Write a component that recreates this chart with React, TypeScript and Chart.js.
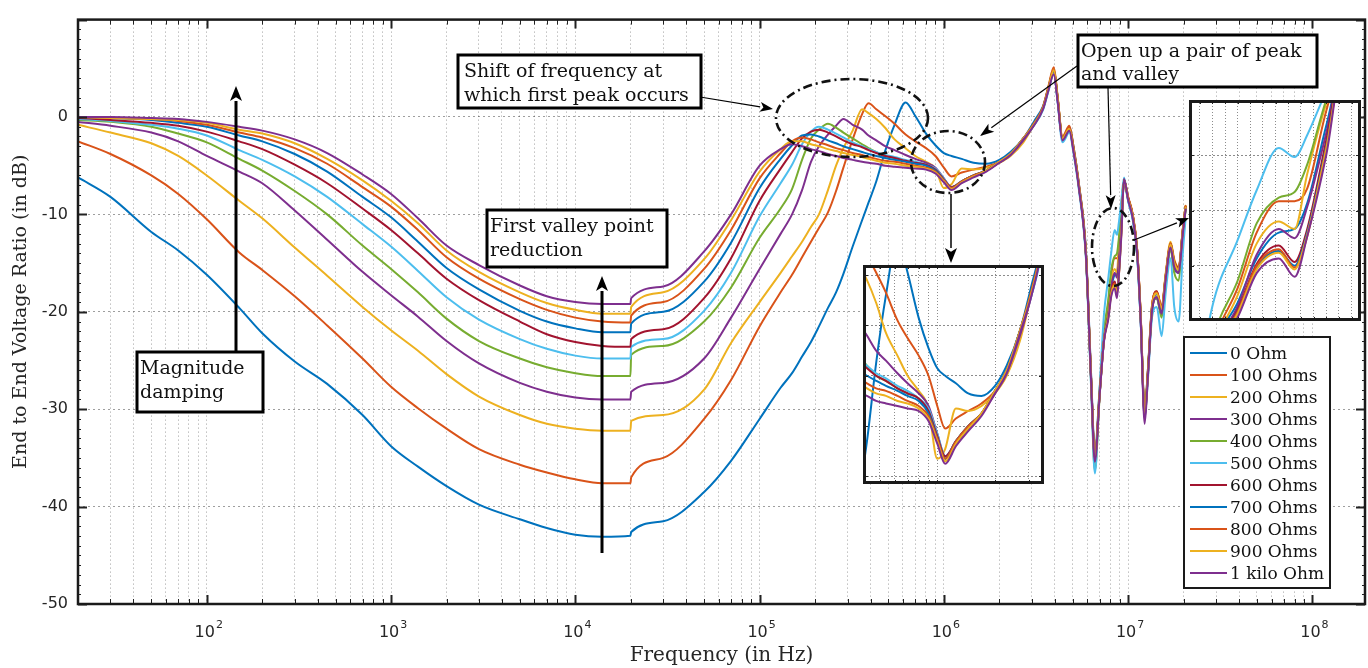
import React, { useEffect, useRef } from "react";
import { Chart, registerables } from "chart.js";

Chart.register(...registerables);

// ---------- DATA ----------
const FREQ_HZ = [
  20, 30, 50, 70, 100, 150, 200, 300, 450, 700,
  1000, 1400, 2000, 3000, 5000, 7000, 10000, 14000, 19900,
  20100, 30000, 50000, 70000, 100000, 130000, 150000, 170000, 190000, 210000,
  235000, 260000, 285000, 320000, 360000, 390000, 430000, 480000, 540000, 620000,
  700000, 800000, 900000, 1000000, 1100000, 1250000, 1450000, 1700000, 2000000, 2300000,
  2700000, 3100000, 3450000, 3700000, 3950000, 4150000, 4400000, 4800000, 5050000, 5400000,
  5900000, 6300000, 6600000, 7000000, 7400000, 7800000, 8100000, 8450000, 8700000, 8900000,
  9200000, 9500000, 10000000, 10600000, 11200000, 11700000, 12300000, 12800000, 13500000, 14300000,
  15200000, 16000000, 17000000, 17800000, 18800000, 19800000, 20500000,
];

const R_0 = [
  -6.2, -8.2, -11.8, -13.7, -16.2, -19.6, -22.2, -25.1, -27.4, -30.6,
  -33.8, -35.9, -37.9, -39.8, -41.3, -42.2, -42.9, -43.1, -43.0,
  -42.6, -41.5, -38.5, -35.3, -31.0, -27.8, -26.3, -24.6, -23.1, -21.5,
  -19.6, -18.0, -16.1, -13.3, -10.6, -8.8, -6.6, -3.5, -0.8, 1.5,
  0.1, -1.7, -2.9, -3.7, -4.0, -4.3, -4.7, -4.8, -4.4, -3.6,
  -2.2, -0.4, 1.1, 3.0, 4.6, 1.6, -2.4, -1.0, -3.0, -6.8,
  -13.6, -26.5, -34.5, -28.0, -22.5, -20.0, -17.6, -16.2, -16.0, -14.6,
  -10.4, -6.8, -8.6, -10.5, -14.2, -21.0, -30.0, -26.0, -19.5, -18.6,
  -20.3, -16.8, -13.5, -15.5, -16.0, -12.0, -9.5,
];
const R_100 = [
  -2.5, -3.8, -6.0, -7.9, -10.5, -13.9, -15.7, -18.4, -21.4, -24.8,
  -27.7, -29.9, -32.0, -34.1, -35.7, -36.5, -37.2, -37.6, -37.6,
  -37.0, -35.0, -31.0, -27.0, -21.5, -18.0, -16.2, -14.4, -12.8, -11.4,
  -9.8, -7.6, -5.2, -2.3, 0.3, 1.4, 0.8, 0.1, -0.7, -1.8,
  -2.5, -3.2, -4.0, -5.2, -6.1, -5.7, -5.4, -5.1, -4.6, -3.8,
  -2.3, -0.7, 1.0, 3.2, 5.1, 2.0, -2.0, -0.9, -3.0, -6.8,
  -13.8, -26.8, -35.0, -28.2, -22.3, -19.2, -16.2, -14.5, -14.5, -13.8,
  -9.6, -6.5, -8.2, -10.0, -13.6, -20.2, -30.2, -26.0, -19.2, -18.0,
  -19.8, -16.2, -13.0, -14.8, -15.6, -11.6, -9.2,
];
const R_200 = [
  -0.8, -1.6, -2.7, -4.0, -6.0, -8.6, -10.4, -13.4, -16.3, -19.5,
  -21.9, -24.0, -26.4, -28.7, -30.6, -31.5, -32.0, -32.2, -32.2,
  -31.2, -30.6, -28.0, -23.2, -19.0, -16.0, -14.3, -12.8, -11.3, -10.0,
  -7.5, -5.0, -3.2, -1.4, 0.8, 0.4, -0.2, -1.1, -2.3, -3.2,
  -4.0, -4.6, -5.3, -7.3, -6.9, -5.3, -5.4, -5.2, -4.7, -4.0,
  -2.6, -0.7, 0.9, 3.0, 4.9, 1.9, -2.1, -1.1, -3.2, -7.0,
  -14.0, -27.0, -35.2, -28.4, -22.6, -19.6, -16.8, -15.6, -16.0, -13.0,
  -9.2, -6.6, -8.3, -10.1, -13.7, -20.3, -30.3, -26.2, -19.3, -17.9,
  -19.6, -16.0, -12.8, -14.6, -15.4, -11.5, -9.1,
];
const R_300 = [
  -0.5, -0.9, -1.6, -2.5, -4.0, -5.6, -6.8, -9.6, -12.6, -15.9,
  -18.3, -20.5, -23.0, -25.3, -27.3, -28.2, -28.8, -29.0, -29.0,
  -28.2, -27.3, -24.8, -20.6, -15.6, -12.0, -10.0, -7.5, -4.6, -3.0,
  -1.8, -0.9, -0.2, -0.8, -1.3, -1.9, -2.4, -3.0, -3.4, -3.9,
  -4.3, -4.7, -5.2, -6.3, -7.2, -6.7, -6.1, -5.5, -4.7, -3.9,
  -2.4, -0.8, 0.8, 2.8, 4.6, 1.6, -2.3, -1.3, -3.4, -7.1,
  -14.1, -27.2, -35.3, -28.5, -22.8, -20.2, -17.4, -16.0, -16.5, -14.8,
  -10.8, -6.5, -8.4, -10.3, -14.0, -20.8, -31.0, -26.6, -19.8, -18.5,
  -20.2, -16.6, -13.3, -15.3, -16.0, -11.9, -9.4,
];
const R_400 = [
  -0.3, -0.5, -1.0, -1.7, -2.6, -4.3, -5.5, -7.6, -10.0, -13.2,
  -15.6, -18.0, -20.7, -23.0, -24.8, -25.7, -26.3, -26.6, -26.6,
  -24.4, -23.5, -21.0, -17.5, -12.4, -9.4, -7.4, -4.4, -2.2, -1.3,
  -0.7, -1.1, -1.6, -2.2, -2.8, -3.2, -3.6, -4.0, -4.2, -4.5,
  -4.7, -4.9, -5.4, -6.4, -7.3, -6.6, -6.0, -5.5, -4.6, -3.8,
  -2.2, -0.7, 0.9, 3.0, 4.8, 1.8, -2.2, -1.2, -3.3, -7.1,
  -14.2, -27.5, -36.3, -28.8, -22.0, -18.8, -15.7, -14.3, -14.0, -12.5,
  -9.0, -6.5, -8.3, -10.2, -13.9, -20.6, -30.5, -26.4, -19.8, -18.6,
  -20.6, -17.0, -13.6, -16.0, -16.8, -12.2, -9.6,
];
const R_500 = [
  -0.2, -0.4, -0.8, -1.2, -1.9, -3.4, -4.4, -6.1, -8.2, -11.0,
  -13.3, -15.8, -18.5, -20.8, -22.8, -23.8, -24.5, -24.8, -24.8,
  -23.6, -22.8, -19.9, -16.0, -10.2, -6.8, -4.9, -2.8, -1.5, -1.0,
  -1.3, -1.7, -2.1, -2.6, -3.0, -3.3, -3.6, -3.9, -4.1, -4.4,
  -4.6, -4.9, -5.3, -6.3, -7.2, -6.6, -6.0, -5.5, -4.6, -3.8,
  -2.2, -0.8, 0.7, 2.7, 4.5, 1.4, -2.6, -1.6, -3.7, -7.4,
  -14.5, -27.8, -36.6, -28.0, -20.2, -16.6, -13.9, -11.6, -12.1, -10.9,
  -8.5, -6.2, -8.6, -10.6, -14.3, -21.0, -30.8, -27.0, -20.5, -19.5,
  -22.5, -18.0, -14.5, -19.5, -21.0, -14.0, -10.5,
];
const R_600 = [
  -0.1, -0.3, -0.6, -0.9, -1.5, -2.5, -3.3, -4.9, -6.8, -9.4,
  -11.6, -14.0, -16.6, -18.8, -21.0, -22.3, -23.1, -23.5, -23.6,
  -22.8, -21.8, -18.6, -14.5, -8.6, -5.3, -3.6, -2.2, -1.5, -1.3,
  -1.6, -2.0, -2.4, -2.8, -3.1, -3.4, -3.7, -4.0, -4.2, -4.5,
  -4.7, -4.9, -5.4, -6.4, -7.2, -6.6, -6.0, -5.5, -4.6, -3.8,
  -2.2, -0.7, 0.9, 3.0, 4.8, 1.8, -2.2, -1.1, -3.2, -7.0,
  -14.0, -27.0, -35.0, -28.6, -22.8, -20.4, -17.9, -16.9, -17.8, -16.0,
  -11.2, -6.4, -8.3, -10.1, -13.7, -20.4, -30.8, -26.3, -19.4, -17.9,
  -19.5, -16.2, -13.0, -14.8, -15.5, -11.6, -9.2,
];
const R_700 = [
  0.0, -0.1, -0.3, -0.6, -1.0, -1.9, -2.5, -3.8, -5.6, -8.2,
  -10.3, -12.8, -15.5, -17.7, -19.9, -21.0, -21.7, -22.1, -22.1,
  -21.2, -20.0, -16.9, -12.9, -7.3, -4.3, -2.9, -1.9, -1.8, -2.0,
  -2.4, -2.7, -3.0, -3.3, -3.6, -3.8, -4.0, -4.2, -4.4, -4.6,
  -4.8, -5.0, -5.5, -6.5, -7.3, -6.6, -6.0, -5.5, -4.6, -3.8,
  -2.2, -0.7, 0.9, 3.0, 4.8, 1.8, -2.2, -1.2, -3.3, -7.0,
  -14.0, -27.0, -35.0, -28.6, -22.9, -20.5, -18.1, -17.2, -18.0, -16.2,
  -11.5, -6.5, -8.4, -10.2, -13.8, -20.5, -30.6, -26.4, -19.6, -18.2,
  -19.8, -16.4, -13.1, -15.0, -15.7, -11.7, -9.3,
];
const R_800 = [
  0.0, -0.1, -0.2, -0.4, -0.8, -1.6, -2.1, -3.2, -4.8, -7.2,
  -9.2, -11.6, -14.4, -16.6, -18.7, -19.8, -20.6, -21.0, -21.1,
  -20.4, -19.0, -15.6, -11.6, -6.3, -3.7, -2.5, -2.1, -2.3, -2.6,
  -2.9, -3.2, -3.4, -3.7, -3.9, -4.1, -4.3, -4.5, -4.6, -4.8,
  -5.0, -5.2, -5.6, -6.5, -7.3, -6.6, -6.0, -5.5, -4.6, -3.8,
  -2.2, -0.6, 1.0, 3.1, 4.9, 1.9, -2.1, -1.1, -3.2, -6.9,
  -13.9, -26.9, -35.1, -28.5, -22.9, -20.5, -18.0, -17.1, -18.1, -16.4,
  -11.6, -6.5, -8.3, -10.1, -13.7, -20.4, -30.5, -26.3, -19.4, -18.0,
  -19.6, -16.3, -13.0, -14.9, -15.6, -11.6, -9.2,
];
const R_900 = [
  0.0, -0.1, -0.2, -0.3, -0.6, -1.3, -1.7, -2.7, -4.3, -6.5,
  -8.6, -10.9, -13.7, -15.9, -18.0, -19.1, -19.8, -20.2, -20.2,
  -19.5, -18.0, -14.6, -10.6, -5.6, -3.3, -2.5, -2.5, -2.8, -3.0,
  -3.3, -3.5, -3.7, -3.9, -4.1, -4.3, -4.5, -4.7, -4.8, -5.0,
  -5.1, -5.3, -5.7, -6.6, -7.4, -6.7, -6.1, -5.5, -4.6, -3.8,
  -2.2, -0.7, 0.9, 3.0, 4.8, 1.8, -2.2, -1.2, -3.3, -7.0,
  -14.0, -27.0, -35.0, -28.6, -22.9, -20.6, -18.2, -17.3, -18.2, -16.3,
  -11.7, -6.5, -8.4, -10.2, -13.8, -20.5, -30.6, -26.4, -19.5, -18.1,
  -19.7, -16.3, -13.1, -15.0, -15.7, -11.7, -9.3,
];
const R_1K = [
  0.0, 0.0, -0.1, -0.2, -0.5, -1.0, -1.4, -2.3, -3.7, -5.9,
  -7.9, -10.4, -13.2, -15.2, -17.3, -18.4, -19.0, -19.2, -19.2,
  -18.6, -17.4, -13.8, -10.0, -5.0, -3.3, -2.8, -3.0, -3.3, -3.5,
  -3.8, -4.0, -4.2, -4.4, -4.6, -4.7, -4.8, -5.0, -5.1, -5.2,
  -5.3, -5.4, -5.8, -6.7, -7.5, -6.8, -6.2, -5.6, -4.7, -3.9,
  -2.3, -0.8, 0.8, 2.8, 4.4, 1.5, -2.4, -1.4, -3.5, -7.2,
  -14.2, -27.2, -35.4, -28.7, -23.0, -20.8, -18.4, -17.6, -18.6, -16.4,
  -12.0, -6.4, -8.5, -10.4, -14.0, -20.8, -31.5, -26.7, -19.8, -18.5,
  -20.2, -16.6, -13.4, -15.4, -16.0, -12.0, -9.5,
];

const SERIES = [R_0, R_100, R_200, R_300, R_400, R_500, R_600, R_700, R_800, R_900, R_1K];
const SERIES_LABELS = [
  "0 Ohm", "100 Ohms", "200 Ohms", "300 Ohms", "400 Ohms", "500 Ohms",
  "600 Ohms", "700 Ohms", "800 Ohms", "900 Ohms", "1 kilo Ohm",
];
const SERIES_COLORS = [
  "#0072BD", "#D95319", "#EDB120", "#7E2F8E", "#77AC30", "#4DBEEE",
  "#A2142F", "#0072BD", "#D95319", "#EDB120", "#7E2F8E",
];

const X_MIN = 20;
const X_MAX = 1.93e8;
const Y_MIN = -50;
const Y_MAX = 10;
const Y_STEP = 10;
const X_DECADE_EXPONENTS = [2, 3, 4, 5, 6, 7, 8];
const X_TITLE = "Frequency (in Hz)";
const Y_TITLE = "End to End Voltage Ratio (in dB)";

const INSET1_X = [4.1e5, 3.6e6];
const INSET1_Y = [-8.3, 0.4];
const INSET1_Y_GRID = [-8, -6, -4, -2, 0];
const INSET2_X = [7.03e6, 9.75e6];
const INSET2_Y = [-21, -9];
const INSET2_Y_GRID = [-18, -15, -12];
const INSET2_X_GRID = [7.2e6, 7.4e6, 7.6e6, 7.8e6, 8.0e6, 8.2e6, 8.4e6, 8.6e6, 8.8e6, 9.0e6, 9.2e6, 9.4e6, 9.6e6];

// ---------- HELPERS ----------
function logGrid(min: number, max: number): number[] {
  const out: number[] = [];
  for (let e = 0; e <= 9; e++) {
    for (let m = 1; m <= 9; m++) {
      const v = m * Math.pow(10, e);
      if (v >= min * 0.9999 && v <= max * 1.0001) out.push(v);
    }
  }
  return out;
}
const X_GRID = logGrid(X_MIN, X_MAX);
const INSET1_X_GRID = logGrid(INSET1_X[0], INSET1_X[1]);

function makeDatasets(width: number) {
  return SERIES.map((s, i) => ({
    label: SERIES_LABELS[i],
    data: FREQ_HZ.map((f, j) => ({ x: f, y: s[j] })),
    borderColor: SERIES_COLORS[i],
    backgroundColor: SERIES_COLORS[i],
    borderWidth: width,
    pointRadius: 0,
    fill: false,
    cubicInterpolationMode: "monotone" as const,
    borderJoinStyle: "round" as const,
    borderCapStyle: "round" as const,
    order: SERIES.length - i,
  }));
}

function arrow(ctx: CanvasRenderingContext2D, x1: number, y1: number, x2: number, y2: number, lw: number, head: number, hw: number) {
  const ang = Math.atan2(y2 - y1, x2 - x1);
  const bx = x2 - head * Math.cos(ang);
  const by = y2 - head * Math.sin(ang);
  ctx.lineWidth = lw;
  ctx.beginPath();
  ctx.moveTo(x1, y1);
  ctx.lineTo(bx, by);
  ctx.stroke();
  ctx.beginPath();
  ctx.moveTo(x2, y2);
  ctx.lineTo(bx + hw * Math.sin(ang), by - hw * Math.cos(ang));
  ctx.lineTo(bx + head * 0.25 * Math.cos(ang), by + head * 0.25 * Math.sin(ang));
  ctx.lineTo(bx - hw * Math.sin(ang), by + hw * Math.cos(ang));
  ctx.closePath();
  ctx.fill();
}

function textBox(ctx: CanvasRenderingContext2D, x: number, y: number, w: number, h: number, lines: string[], tx: number, baselines: number[], size: number) {
  ctx.fillStyle = "#ffffff";
  ctx.fillRect(x, y, w, h);
  ctx.lineWidth = 3;
  ctx.strokeStyle = "#000";
  ctx.strokeRect(x, y, w, h);
  ctx.fillStyle = "#111";
  ctx.font = `${size}px "DejaVu Serif", serif`;
  ctx.textAlign = "left";
  ctx.textBaseline = "alphabetic";
  lines.forEach((t, i) => ctx.fillText(t, tx, baselines[i]));
}

function dashEllipse(ctx: CanvasRenderingContext2D, cx: number, cy: number, rx: number, ry: number) {
  ctx.save();
  ctx.setLineDash([9, 4, 2, 4]);
  ctx.lineWidth = 2.6;
  ctx.strokeStyle = "#111";
  ctx.beginPath();
  ctx.ellipse(cx, cy, rx, ry, 0, 0, Math.PI * 2);
  ctx.stroke();
  ctx.restore();
}

const mainDecor = {
  id: "mainDecor",
  afterDraw(chart: any) {
    const ctx: CanvasRenderingContext2D = chart.ctx;
    const { left, right, top, bottom } = chart.chartArea;
    const xs = chart.scales.x;
    const ys = chart.scales.y;
    ctx.save();
    ctx.strokeStyle = "#222";
    ctx.lineWidth = 1;
    ctx.setLineDash([]);
    for (const v of X_GRID) {
      const px = Math.round(xs.getPixelForValue(v)) + 0.5;
      const major = X_DECADE_EXPONENTS.some((e) => Math.abs(v - Math.pow(10, e)) < 1e-6 * v);
      const len = major ? 9 : 5;
      ctx.lineWidth = major ? 2 : 1;
      ctx.beginPath();
      ctx.moveTo(px, bottom);
      ctx.lineTo(px, bottom - len);
      ctx.moveTo(px, top);
      ctx.lineTo(px, top + len);
      ctx.stroke();
    }
    for (let v = Y_MIN; v <= Y_MAX; v += 1) {
      const py = Math.round(ys.getPixelForValue(v)) + 0.5;
      const major = v % Y_STEP === 0;
      const len = major ? 9 : 3;
      ctx.lineWidth = major ? 2 : 1;
      ctx.beginPath();
      ctx.moveTo(left, py);
      ctx.lineTo(left + len, py);
      ctx.moveTo(right, py);
      ctx.lineTo(right - len, py);
      ctx.stroke();
    }
    ctx.lineWidth = 2.5;
    ctx.strokeStyle = "#1a1a1a";
    ctx.strokeRect(left, top, right - left, bottom - top);

    // x tick labels 10^n
    ctx.fillStyle = "#262626";
    ctx.textBaseline = "alphabetic";
    for (const e of X_DECADE_EXPONENTS) {
      const px = xs.getPixelForValue(Math.pow(10, e));
      ctx.font = '16px "DejaVu Sans", sans-serif';
      const w10 = ctx.measureText("10").width;
      ctx.textAlign = "left";
      const x0 = px - w10 / 2 - 2;
      ctx.fillText("10", x0, 637);
      ctx.font = '11px "DejaVu Sans", sans-serif';
      ctx.fillText(String(e), x0 + w10 + 1, 628);
    }

    // legend
    const lx = 1184, ly = 337, lw = 146, lh = 251;
    ctx.fillStyle = "#fff";
    ctx.fillRect(lx, ly, lw, lh);
    ctx.lineWidth = 2;
    ctx.strokeStyle = "#1a1a1a";
    ctx.strokeRect(lx, ly, lw, lh);
    ctx.font = '17px "DejaVu Serif", serif';
    ctx.textAlign = "left";
    chart.data.datasets.forEach((ds: any, i: number) => {
      const cy = 353 + i * 22;
      ctx.strokeStyle = ds.borderColor;
      ctx.lineWidth = 2;
      ctx.beginPath();
      ctx.moveTo(1190, cy);
      ctx.lineTo(1227, cy);
      ctx.stroke();
      ctx.fillStyle = "#111";
      ctx.fillText(ds.label, 1230, cy + 6);
    });

    // annotations
    ctx.strokeStyle = "#000";
    ctx.fillStyle = "#000";
    arrow(ctx, 236, 352, 236, 86, 3, 15, 6);
    arrow(ctx, 602, 553, 602, 276, 3, 15, 6);
    arrow(ctx, 700, 97, 773, 109, 1.2, 13, 5);
    arrow(ctx, 951, 194, 951, 263, 1.5, 15, 6);
    arrow(ctx, 1077, 66, 980, 136, 1.2, 14, 5);
    arrow(ctx, 1108, 88, 1111, 209, 1.2, 14, 5);
    arrow(ctx, 1134, 240, 1189, 218, 1.2, 13, 5);

    dashEllipse(ctx, 852, 118, 76, 39);
    dashEllipse(ctx, 948, 162, 37, 31);
    dashEllipse(ctx, 1113, 247, 21, 39);

    textBox(ctx, 458, 55, 243, 53, ["Shift of frequency at", "which first peak occurs"], 464, [77, 101], 19);
    textBox(ctx, 487, 210, 180, 57, ["First valley point", "reduction"], 490, [232, 256], 19);
    textBox(ctx, 137, 352, 126, 60, ["Magnitude", "damping"], 140, [374, 398], 19);
    textBox(ctx, 1078, 35, 239, 52, ["Open up a pair of peak", "and valley"], 1081, [57, 80], 19);

    ctx.restore();
  },
};

const insetDecor = {
  id: "insetDecor",
  beforeDraw(chart: any) {
    const ctx: CanvasRenderingContext2D = chart.ctx;
    ctx.save();
    ctx.fillStyle = "#fff";
    ctx.fillRect(0, 0, chart.width, chart.height);
    ctx.restore();
  },
  afterDraw(chart: any) {
    const ctx: CanvasRenderingContext2D = chart.ctx;
    const { left, right, top, bottom } = chart.chartArea;
    ctx.save();
    ctx.strokeStyle = "#222";
    ctx.lineWidth = 1;
    for (const t of chart.scales.x.ticks) {
      const px = Math.round(chart.scales.x.getPixelForValue(t.value)) + 0.5;
      ctx.beginPath();
      ctx.moveTo(px, bottom);
      ctx.lineTo(px, bottom - 4);
      ctx.moveTo(px, top);
      ctx.lineTo(px, top + 4);
      ctx.stroke();
    }
    for (const t of chart.scales.y.ticks) {
      const py = Math.round(chart.scales.y.getPixelForValue(t.value)) + 0.5;
      ctx.beginPath();
      ctx.moveTo(left, py);
      ctx.lineTo(left + 5, py);
      ctx.moveTo(right, py);
      ctx.lineTo(right - 5, py);
      ctx.stroke();
    }
    ctx.lineWidth = 3;
    ctx.strokeStyle = "#1a1a1a";
    ctx.strokeRect(1.5, 1.5, chart.width - 3, chart.height - 3);
    ctx.restore();
  },
};

function insetConfig(xType: string, xr: number[], yr: number[], xGrid: number[], yGrid: number[]) {
  return {
    type: "line" as const,
    data: { datasets: makeDatasets(2) },
    options: {
      animation: false as const,
      responsive: false,
      maintainAspectRatio: false,
      layout: { padding: 0 },
      plugins: { legend: { display: false }, tooltip: { enabled: false } },
      scales: {
        x: {
          type: xType,
          min: xr[0],
          max: xr[1],
          afterBuildTicks: (s: any) => { s.ticks = xGrid.map((v) => ({ value: v })); },
          afterFit: (s: any) => { s.height = 0; },
          ticks: { display: false },
          grid: { color: "rgba(0,0,0,0.45)", drawTicks: false, lineWidth: 1 },
          border: { display: false, dash: [1, 2] },
        },
        y: {
          min: yr[0],
          max: yr[1],
          afterBuildTicks: (s: any) => { s.ticks = yGrid.map((v) => ({ value: v })); },
          afterFit: (s: any) => { s.width = 0; },
          ticks: { display: false },
          grid: { color: "rgba(0,0,0,0.45)", drawTicks: false, lineWidth: 1 },
          border: { display: false, dash: [2, 2] },
        },
      },
    },
    plugins: [insetDecor],
  };
}

export default function App() {
  const mainRef = useRef<HTMLCanvasElement | null>(null);
  const in1Ref = useRef<HTMLCanvasElement | null>(null);
  const in2Ref = useRef<HTMLCanvasElement | null>(null);

  useEffect(() => {
    const main = new Chart(mainRef.current as HTMLCanvasElement, {
      type: "line",
      data: { datasets: makeDatasets(2) as any },
      options: {
        animation: false,
        responsive: false,
        maintainAspectRatio: false,
        layout: { padding: { left: 0, right: 3, top: 11, bottom: 0 } },
        plugins: { legend: { display: false }, tooltip: { enabled: false } },
        scales: {
          x: {
            type: "logarithmic",
            min: X_MIN,
            max: X_MAX,
            afterBuildTicks: (s: any) => { s.ticks = X_GRID.map((v) => ({ value: v })); },
            afterFit: (s: any) => { s.height = 64; },
            ticks: { display: false, autoSkip: false },
            grid: { color: "rgba(0,0,0,0.38)", drawTicks: false, lineWidth: 1 },
            border: { display: false, dash: [1, 3] },
            title: {
              display: true,
              text: X_TITLE,
              color: "#262626",
              font: { family: '"DejaVu Serif", serif', size: 20 },
              padding: { top: 0, bottom: 0 },
            },
          } as any,
          y: {
            min: Y_MIN,
            max: Y_MAX,
            afterFit: (s: any) => { s.width = 78; },
            ticks: {
              stepSize: Y_STEP,
              padding: 10,
              color: "#262626",
              font: { family: '"DejaVu Sans", sans-serif', size: 16 },
              callback: (v: any) => (Number(v) <= 0 ? String(v) : ""),
            },
            grid: { color: "rgba(0,0,0,0.38)", drawTicks: false, lineWidth: 1 },
            border: { display: false, dash: [2, 3] },
            title: {
              display: true,
              text: Y_TITLE,
              color: "#262626",
              font: { family: '"DejaVu Serif", serif', size: 19 },
              padding: { top: 10, bottom: 0 },
            },
          },
        },
      },
      plugins: [mainDecor],
    });
    const in1 = new Chart(in1Ref.current as HTMLCanvasElement, insetConfig("logarithmic", INSET1_X, INSET1_Y, INSET1_X_GRID, INSET1_Y_GRID) as any);
    const in2 = new Chart(in2Ref.current as HTMLCanvasElement, insetConfig("linear", INSET2_X, INSET2_Y, INSET2_X_GRID, INSET2_Y_GRID) as any);
    return () => {
      main.destroy();
      in1.destroy();
      in2.destroy();
    };
  }, []);

  return (
    <div style={{ position: "absolute", left: 0, top: 0, width: 1368, height: 668, background: "#fff" }}>
      <canvas ref={mainRef} width={1368} height={668} style={{ position: "absolute", left: 0, top: 0, width: 1368, height: 668 }} />
      <canvas ref={in1Ref} width={181} height={219} style={{ position: "absolute", left: 863, top: 265, width: 181, height: 219 }} />
      <canvas ref={in2Ref} width={172} height={221} style={{ position: "absolute", left: 1189, top: 100, width: 172, height: 221 }} />
    </div>
  );
}
